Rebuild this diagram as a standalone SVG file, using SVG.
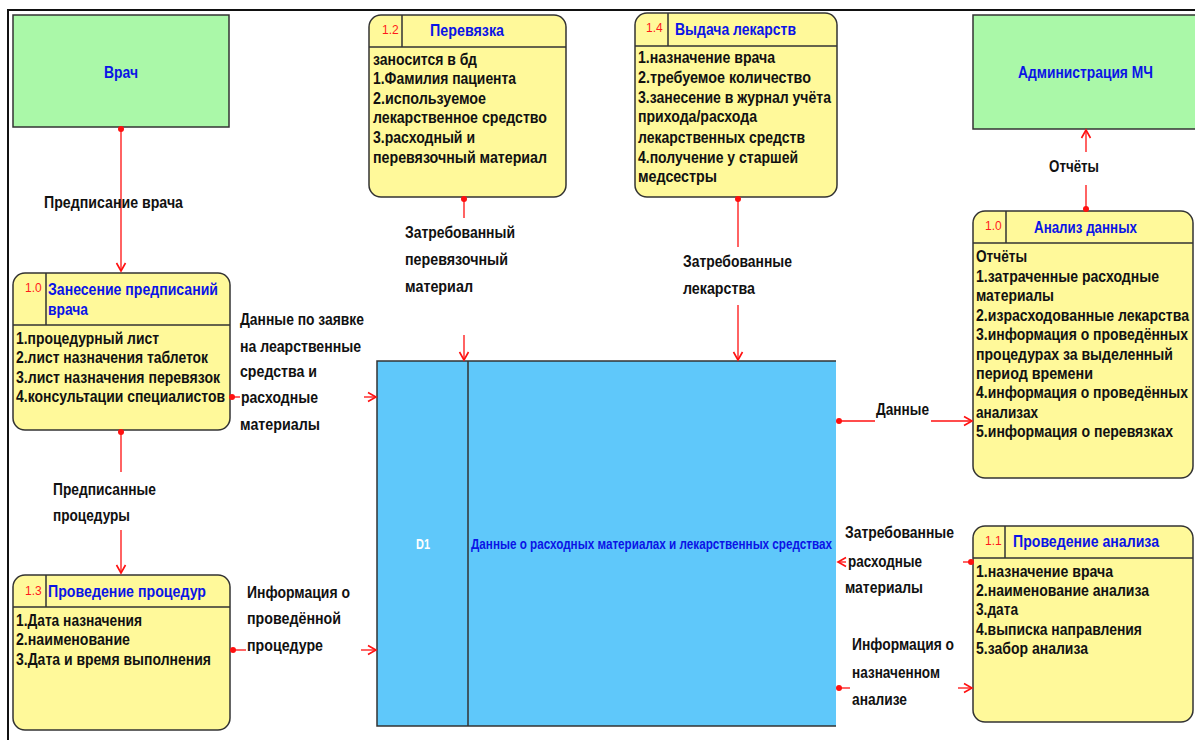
<svg xmlns="http://www.w3.org/2000/svg" width="1195" height="740" viewBox="0 0 1195 740">
<style>
text{font-family:"Liberation Sans",Arial,sans-serif;font-weight:bold;font-size:17px}
.b{fill:#111}
.t{fill:#0a14e6}
.n{font-weight:normal;font-size:12px;fill:#ff1a1a}
.w{fill:#ffffff;font-size:15px}
.s{fill:#0a14e6;font-size:15px}
.ext{fill:#aaf8a8;stroke:#333;stroke-width:1.5}
.proc{fill:#fff99a;stroke:#333;stroke-width:1.5}
.div{stroke:#333;stroke-width:1.5;fill:none}
.c{stroke:#ff1010;stroke-width:1.3;fill:none}
</style>
<defs>
<marker id="dot" markerWidth="8" markerHeight="8" refX="4" refY="4" markerUnits="userSpaceOnUse"><circle cx="4" cy="4" r="3" fill="#ff1010"/></marker>
<marker id="arr" markerWidth="12" markerHeight="12" refX="10" refY="6" orient="auto" markerUnits="userSpaceOnUse"><path d="M2,1.5 L10,6 L2,10.5" fill="none" stroke="#ff1010" stroke-width="1.6"/></marker>
</defs>
<rect x="0" y="0" width="1195" height="740" fill="#ffffff"/>
<path d="M8,740 V10 H1195" fill="none" stroke="#111" stroke-width="2"/>

<g id="vrach">
<rect class="ext" x="13" y="15" width="216" height="112"/>
<text class="t" x="104" y="78" textLength="34" lengthAdjust="spacingAndGlyphs">Врач</text>
</g>

<g id="admin">
<rect class="ext" x="973" y="15" width="225" height="114"/>
<text class="t" x="1018" y="78" textLength="135" lengthAdjust="spacingAndGlyphs">Администрация МЧ</text>
</g>

<g id="p10">
<rect class="proc" x="13" y="273" width="217" height="157" rx="12"/>
<path class="div" d="M13,325 H230 M46,273 V325"/>
<text class="n" x="25" y="292">1.0</text>
<text class="t" x="48" y="295" textLength="170" lengthAdjust="spacingAndGlyphs">Занесение предписаний</text>
<text class="t" x="48" y="315" textLength="40" lengthAdjust="spacingAndGlyphs">врача</text>
<text class="b" x="16" y="344" textLength="143" lengthAdjust="spacingAndGlyphs">1.процедурный лист</text>
<text class="b" x="16" y="363" textLength="192" lengthAdjust="spacingAndGlyphs">2.лист назначения таблеток</text>
<text class="b" x="16" y="383" textLength="204" lengthAdjust="spacingAndGlyphs">3.лист назначения перевязок</text>
<text class="b" x="16" y="402" textLength="209" lengthAdjust="spacingAndGlyphs">4.консультации специалистов</text>
</g>

<g id="p13">
<rect class="proc" x="13" y="575" width="217" height="155" rx="12"/>
<path class="div" d="M13,607 H230 M46,575 V607"/>
<text class="n" x="25" y="595">1.3</text>
<text class="t" x="48" y="597" textLength="158" lengthAdjust="spacingAndGlyphs">Проведение процедур</text>
<text class="b" x="16" y="626" textLength="126" lengthAdjust="spacingAndGlyphs">1.Дата назначения</text>
<text class="b" x="16" y="645" textLength="114" lengthAdjust="spacingAndGlyphs">2.наименование</text>
<text class="b" x="16" y="665" textLength="195" lengthAdjust="spacingAndGlyphs">3.Дата и время выполнения</text>
</g>

<g id="p12">
<rect class="proc" x="369" y="15" width="197" height="182" rx="12"/>
<path class="div" d="M369,47 H566 M402,15 V47"/>
<text class="n" x="382" y="34">1.2</text>
<text class="t" x="430" y="36" textLength="74" lengthAdjust="spacingAndGlyphs">Перевязка</text>
<text class="b" x="373" y="65" textLength="104" lengthAdjust="spacingAndGlyphs">заносится в бд</text>
<text class="b" x="373" y="84" textLength="143" lengthAdjust="spacingAndGlyphs">1.Фамилия пациента</text>
<text class="b" x="373" y="104" textLength="113" lengthAdjust="spacingAndGlyphs">2.используемое</text>
<text class="b" x="373" y="123" textLength="174" lengthAdjust="spacingAndGlyphs">лекарственное средство</text>
<text class="b" x="373" y="143" textLength="102" lengthAdjust="spacingAndGlyphs">3.расходный и</text>
<text class="b" x="373" y="163" textLength="174" lengthAdjust="spacingAndGlyphs">перевязочный материал</text>
</g>

<g id="p14">
<rect class="proc" x="635" y="13" width="202" height="184" rx="12"/>
<path class="div" d="M635,46 H837 M668,13 V46"/>
<text class="n" x="646" y="32">1.4</text>
<text class="t" x="675" y="35" textLength="121" lengthAdjust="spacingAndGlyphs">Выдача лекарств</text>
<text class="b" x="638" y="63" textLength="137" lengthAdjust="spacingAndGlyphs">1.назначение врача</text>
<text class="b" x="638" y="83" textLength="173" lengthAdjust="spacingAndGlyphs">2.требуемое количество</text>
<text class="b" x="638" y="103" textLength="193" lengthAdjust="spacingAndGlyphs">3.занесение в журнал учёта</text>
<text class="b" x="638" y="122" textLength="119" lengthAdjust="spacingAndGlyphs">прихода/расхода</text>
<text class="b" x="638" y="143" textLength="167" lengthAdjust="spacingAndGlyphs">лекарственных средств</text>
<text class="b" x="638" y="163" textLength="160" lengthAdjust="spacingAndGlyphs">4.получение у старшей</text>
<text class="b" x="638" y="182" textLength="79" lengthAdjust="spacingAndGlyphs">медсестры</text>
</g>

<g id="p10b">
<rect class="proc" x="973" y="211" width="220" height="267" rx="12"/>
<path class="div" d="M973,243 H1193 M1006,211 V243"/>
<text class="n" x="985" y="230">1.0</text>
<text class="t" x="1034" y="233" textLength="103" lengthAdjust="spacingAndGlyphs">Анализ данных</text>
<text class="b" x="976" y="262" textLength="51" lengthAdjust="spacingAndGlyphs">Отчёты</text>
<text class="b" x="976" y="282" textLength="183" lengthAdjust="spacingAndGlyphs">1.затраченные расходные</text>
<text class="b" x="976" y="301" textLength="78" lengthAdjust="spacingAndGlyphs">материалы</text>
<text class="b" x="976" y="321" textLength="213" lengthAdjust="spacingAndGlyphs">2.израсходованные лекарства</text>
<text class="b" x="976" y="340" textLength="212" lengthAdjust="spacingAndGlyphs">3.информация о проведённых</text>
<text class="b" x="976" y="360" textLength="197" lengthAdjust="spacingAndGlyphs">процедурах за выделенный</text>
<text class="b" x="976" y="379" textLength="117" lengthAdjust="spacingAndGlyphs">период времени</text>
<text class="b" x="976" y="398" textLength="212" lengthAdjust="spacingAndGlyphs">4.информация о проведённых</text>
<text class="b" x="976" y="418" textLength="62" lengthAdjust="spacingAndGlyphs">анализах</text>
<text class="b" x="976" y="437" textLength="197" lengthAdjust="spacingAndGlyphs">5.информация о перевязках</text>
</g>

<g id="p11">
<rect class="proc" x="973" y="526" width="220" height="196" rx="12"/>
<path class="div" d="M973,558 H1193 M1005,526 V558"/>
<text class="n" x="985" y="545">1.1</text>
<text class="t" x="1013" y="547" textLength="146" lengthAdjust="spacingAndGlyphs">Проведение анализа</text>
<text class="b" x="976" y="577" textLength="137" lengthAdjust="spacingAndGlyphs">1.назначение врача</text>
<text class="b" x="976" y="596" textLength="173" lengthAdjust="spacingAndGlyphs">2.наименование анализа</text>
<text class="b" x="976" y="615" textLength="42" lengthAdjust="spacingAndGlyphs">3.дата</text>
<text class="b" x="976" y="635" textLength="166" lengthAdjust="spacingAndGlyphs">4.выписка направления</text>
<text class="b" x="976" y="654" textLength="112" lengthAdjust="spacingAndGlyphs">5.забор анализа</text>
</g>

<g id="d1">
<rect x="377" y="361" width="459" height="365" fill="#5fc8fa"/>
<path class="div" d="M836,361 H377 V726 H836 M468,361 V726"/>
<text class="w" x="416" y="549" textLength="14" lengthAdjust="spacingAndGlyphs">D1</text>
<text class="s" x="471" y="549" textLength="361" lengthAdjust="spacingAndGlyphs">Данные о расходных материалах и лекарственных средствах</text>
</g>

<g id="connectors">
<path class="c" d="M121,129 V271" marker-start="url(#dot)" marker-end="url(#arr)"/>
<text class="b" x="44" y="208" textLength="139" lengthAdjust="spacingAndGlyphs">Предписание врача</text>

<path class="c" d="M464,199 V218" marker-start="url(#dot)"/>
<path class="c" d="M464,335 V360" marker-end="url(#arr)"/>
<text class="b" x="405" y="238" textLength="110" lengthAdjust="spacingAndGlyphs">Затребованный</text>
<text class="b" x="405" y="265" textLength="103" lengthAdjust="spacingAndGlyphs">перевязочный</text>
<text class="b" x="405" y="292" textLength="68" lengthAdjust="spacingAndGlyphs">материал</text>

<path class="c" d="M738,199 V247" marker-start="url(#dot)"/>
<path class="c" d="M738,305 V360" marker-end="url(#arr)"/>
<text class="b" x="683" y="267" textLength="109" lengthAdjust="spacingAndGlyphs">Затребованные</text>
<text class="b" x="683" y="294" textLength="72" lengthAdjust="spacingAndGlyphs">лекарства</text>

<path class="c" d="M232,397 H240" marker-start="url(#dot)"/>
<path class="c" d="M364,397 H376" marker-end="url(#arr)"/>
<text class="b" x="240" y="325" textLength="124" lengthAdjust="spacingAndGlyphs">Данные по заявке</text>
<text class="b" x="240" y="352" textLength="121" lengthAdjust="spacingAndGlyphs">на леарственные</text>
<text class="b" x="240" y="377" textLength="77" lengthAdjust="spacingAndGlyphs">средства и</text>
<text class="b" x="241" y="403" textLength="77" lengthAdjust="spacingAndGlyphs">расходные</text>
<text class="b" x="240" y="430" textLength="80" lengthAdjust="spacingAndGlyphs">материалы</text>

<path class="c" d="M121,432 V472" marker-start="url(#dot)"/>
<path class="c" d="M121,530 V573" marker-end="url(#arr)"/>
<text class="b" x="53" y="495" textLength="103" lengthAdjust="spacingAndGlyphs">Предписанные</text>
<text class="b" x="53" y="521" textLength="77" lengthAdjust="spacingAndGlyphs">процедуры</text>

<path class="c" d="M233,650 H246" marker-start="url(#dot)"/>
<path class="c" d="M361,650 H376" marker-end="url(#arr)"/>
<text class="b" x="247" y="598" textLength="103" lengthAdjust="spacingAndGlyphs">Информация о</text>
<text class="b" x="247" y="624" textLength="94" lengthAdjust="spacingAndGlyphs">проведённой</text>
<text class="b" x="247" y="651" textLength="76" lengthAdjust="spacingAndGlyphs">процедуре</text>

<path class="c" d="M839,421 H875" marker-start="url(#dot)"/>
<path class="c" d="M931,421 H972" marker-end="url(#arr)"/>
<text class="b" x="876" y="415" textLength="53" lengthAdjust="spacingAndGlyphs">Данные</text>

<path class="c" d="M1086,209 V185" marker-start="url(#dot)"/>
<path class="c" d="M1086,152 V130" marker-end="url(#arr)"/>
<text class="b" x="1049" y="172" textLength="50" lengthAdjust="spacingAndGlyphs">Отчёты</text>

<path class="c" d="M971,562 H963" marker-start="url(#dot)"/>
<path class="c" d="M846,562 H838" marker-end="url(#arr)"/>
<text class="b" x="845" y="538" textLength="109" lengthAdjust="spacingAndGlyphs">Затребованные</text>
<text class="b" x="848" y="567" textLength="74" lengthAdjust="spacingAndGlyphs">расходные</text>
<text class="b" x="845" y="593" textLength="78" lengthAdjust="spacingAndGlyphs">материалы</text>

<path class="c" d="M839,688 H850" marker-start="url(#dot)"/>
<path class="c" d="M958,688 H972" marker-end="url(#arr)"/>
<text class="b" x="852" y="650" textLength="102" lengthAdjust="spacingAndGlyphs">Информация о</text>
<text class="b" x="852" y="678" textLength="88" lengthAdjust="spacingAndGlyphs">назначенном</text>
<text class="b" x="852" y="705" textLength="55" lengthAdjust="spacingAndGlyphs">анализе</text>
</g>
</svg>
